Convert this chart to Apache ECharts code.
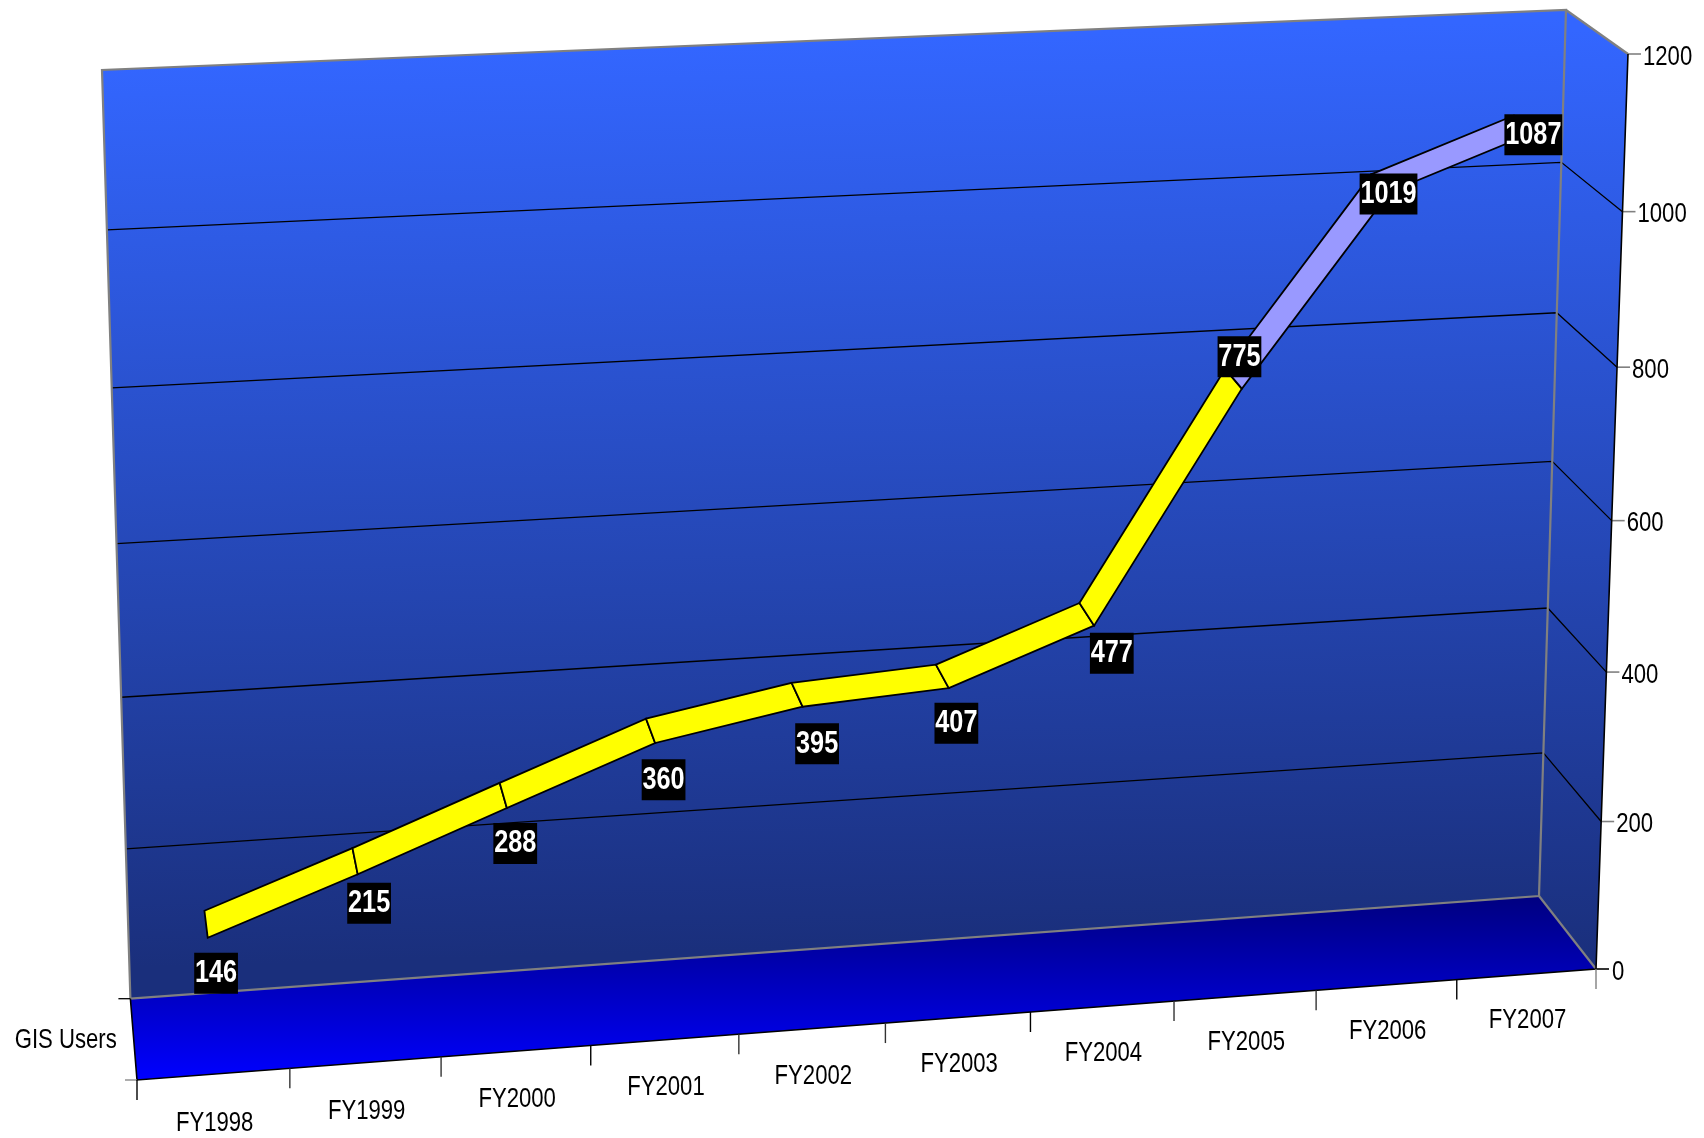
<!DOCTYPE html>
<html>
<head>
<meta charset="utf-8">
<style>html,body{margin:0;padding:0;background:#fff}#c{width:1704px;height:1138px}</style>
<script src="https://cdn.jsdelivr.net/npm/echarts@6/dist/echarts.min.js"></script>
</head>
<body>
<div id="c"></div>
<script>
const categories = ['FY1998','FY1999','FY2000','FY2001','FY2002','FY2003','FY2004','FY2005','FY2006','FY2007'];
const gisUsers = [146,215,288,360,395,407,477,775,1019,1087];
const yTicks = [0,200,400,600,800,1000,1200];
const seriesName = 'GIS Users';

// --- layout and style of the perspective box (not data) ---
const BOX = {
  back:  {bl:[130.4,998.7], br:[1539,896], tr:[1566,10], tl:[102,70]},
  front: {bl:[137,1080],   br:[1596,969], tr:[1628,54], tl:[108,119]}
};
const RIBBON_Z = [0.34,0.69];
const LABEL_SHIFT = [[10,49],[14,42],[12,48],[13,49],[20,49],[14,47],[25,39],[6,-22],[8,11],[9,11]];
const FONT = 'Liberation Sans';
const NARROW = 0.79;
const YELLOW='#FFFF00', LILAC='#9999FF', GREY='#808080';
const segmentFill = i => i < 7 ? YELLOW : LILAC;

function lerp(a,b,t){return [a[0]+(b[0]-a[0])*t,a[1]+(b[1]-a[1])*t];}
function homography(q){ // unit square -> quad (0,0)=bl (1,0)=br (1,1)=tr (0,1)=tl
  const [x0,y0]=q.bl,[x1,y1]=q.br,[x2,y2]=q.tr,[x3,y3]=q.tl;
  const sx=x0-x1+x2-x3, sy=y0-y1+y2-y3, dx1=x1-x2, dx2=x3-x2, dy1=y1-y2, dy2=y3-y2;
  const den=dx1*dy2-dx2*dy1;
  const g=(sx*dy2-dx2*sy)/den, h=(dx1*sy-sx*dy1)/den;
  const a=x1-x0+g*x1, b=x3-x0+h*x3, d=y1-y0+g*y1, e=y3-y0+h*y3;
  return (u,w)=>{const k=g*u+h*w+1;return [(a*u+b*w+x0)/k,(d*u+e*w+y0)/k];};
}
function project(u,w,z){
  const q={};
  for(const c of ['bl','br','tr','tl']) q[c]=lerp(BOX.back[c],BOX.front[c],z);
  return homography(q)(u,w);
}
function unit(cs,p){return [(p[0]-cs.x)/cs.width, 1-(p[1]-cs.y)/cs.height];}

function poly(points,style){return {type:'polygon',shape:{points},style};}
function line(points,stroke,lineWidth){return {type:'polyline',shape:{points},style:{stroke,lineWidth,fill:null}};}
function label(x,y,text,align){return {type:'text',x,y,scaleX:NARROW,style:{x:0,y:0,text,fill:'#000',fontFamily:FONT,fontSize:28,align,verticalAlign:'middle'}};}

function renderFrame(params,api){
  const cs=params.coordSys, ch=[];
  const wallGrad={type:'linear',global:true,x:834,y:40,x2:860,y2:947,colorStops:[{offset:0,color:'#3366FF'},{offset:1,color:'#1A2F7C'}]};
  const sideGrad={type:'linear',global:true,x:1612,y:30,x2:1612,y2:960,colorStops:[{offset:0,color:'#3366FF'},{offset:1,color:'#1A2F7C'}]};
  const floorGrad={type:'linear',x:0,y:0,x2:0,y2:1,colorStops:[{offset:0,color:'#000080'},{offset:1,color:'#0000FF'}]};
  const B=BOX.back,F=BOX.front;
  ch.push(poly([B.tl,B.tr,B.br,B.bl],{fill:wallGrad}));
  ch.push(poly([B.tr,F.tr,F.br,B.br],{fill:sideGrad}));
  ch.push(poly([B.bl,B.br,F.br,F.bl],{fill:floorGrad}));
  // value gridlines and ticks
  yTicks.forEach(t=>{
    const w=unit(cs,api.coord([0,t]))[1];
    const a=project(0,w,0),b=project(1,w,0),c=project(1,w,1);
    if(t>0&&t<1200) ch.push(line([a,b,c],'#000',1.3));
    ch.push(line([c,[c[0]+13,c[1]]],t===0?'#000':GREY,1.6));
    ch.push(label(c[0]+(t===0?16:15),c[1]+3,String(t),'left'));
  });
  // box edges
  ch.push(line([B.bl,B.tl,B.tr,B.br,B.bl],GREY,2.2));
  ch.push(line([B.tr,F.tr],GREY,2.2));
  ch.push(line([B.br,F.br],GREY,2.2));
  ch.push(line([F.tr,F.br,F.bl,B.bl],'#000',1.6));
  ch.push(line([[B.bl[0]-12,B.bl[1]],B.bl],'#000',1.3));
  ch.push(line([[F.bl[0]-12,F.bl[1]],F.bl],GREY,1.3));
  // category ticks and labels
  const half=api.size([1,0])[0]/2;
  categories.forEach((name,i)=>{
    const c=api.coord([i,0]);
    const u0=unit(cs,[c[0]-half,c[1]])[0], um=unit(cs,c)[0];
    const p=project(u0,0,1);
    ch.push(line([p,[p[0],p[1]+20]],i%3===0?'#000':'#333',1.4));
    const m=project(um,0,1);
    ch.push(label(m[0]+1,m[1]+49-3.5*um,name,'center'));
  });
  const p=project(1,0,1);
  ch.push(line([p,[p[0],p[1]+20]],GREY,1.4));
  const mid=lerp(B.bl,F.bl,0.5);
  ch.push(label(mid[0]-17,mid[1]+1,seriesName,'right'));
  return {type:'group',children:ch};
}
function renderRibbon(params,api){
  const cs=params.coordSys,i=api.value(0);
  if(i>=gisUsers.length-1) return null;
  const a=unit(cs,api.coord([i,api.value(1)])), b=unit(cs,api.coord([i+1,gisUsers[i+1]]));
  const pts=[project(a[0],a[1],RIBBON_Z[0]),project(b[0],b[1],RIBBON_Z[0]),project(b[0],b[1],RIBBON_Z[1]),project(a[0],a[1],RIBBON_Z[1])];
  return poly(pts,{fill:segmentFill(i),stroke:'#000',lineWidth:1.8,lineJoin:'miter'});
}
function renderLabel(params,api){
  const cs=params.coordSys,i=api.value(0);
  const a=unit(cs,api.coord([i,api.value(1)]));
  const m=project(a[0],a[1],(RIBBON_Z[0]+RIBBON_Z[1])/2);
  const s=LABEL_SHIFT[i];
  return {type:'text',x:m[0]+s[0],y:m[1]+s[1],scaleX:NARROW,z2:10,style:{x:0,y:0,text:String(api.value(1)),fill:'#fff',fontFamily:FONT,fontWeight:'bold',fontSize:32,
    align:'center',verticalAlign:'middle',backgroundColor:'#000',padding:[5,1,4,1]}};
}
const points=gisUsers.map((v,i)=>[i,v]);
const chart=echarts.init(document.getElementById('c'));
chart.setOption({
  animation:false,
  backgroundColor:'#fff',
  grid:{left:0,right:0,top:0,bottom:0},
  xAxis:{type:'category',data:categories,show:false},
  yAxis:{type:'value',min:0,max:1200,interval:200,show:false},
  series:[
    {type:'custom',name:'frame',z:1,silent:true,renderItem:renderFrame,data:[[0,0]]},
    {type:'custom',name:seriesName,z:2,silent:true,renderItem:renderRibbon,data:points},
    {type:'custom',name:'labels',z:3,silent:true,renderItem:renderLabel,data:points}
  ]
});
</script>
</body>
</html>
